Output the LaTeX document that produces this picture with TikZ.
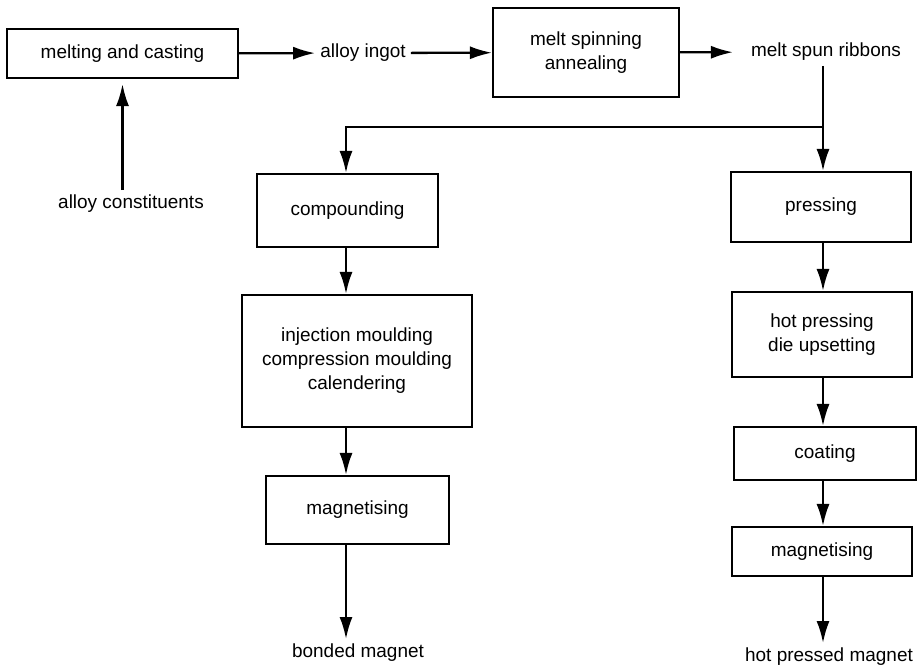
\documentclass[tikz,border=0pt]{standalone}
\usepackage{fontspec}
\setmainfont{Liberation Sans}
\usetikzlibrary{arrows.meta,positioning}

\begin{document}
\begin{tikzpicture}[x=0.2mm,y=-0.2mm,line width=1.3pt,
    font=\fontsize{10.8}{13.7}\selectfont,
    >={Latex[length=4.4mm,width=2.6mm]},
    stage/.style={draw,align=center,inner sep=1mm,line width=1.2pt},
    lbl/.style={inner sep=0.8mm}]
  \useasboundingbox (0,0) rectangle (918,666);
  % main line
  \node[stage,minimum width=46.2mm,minimum height=9.8mm] (melt) at (122.5,53.5) {melting and casting};
  \node[lbl] (ingot) at (363,53) {alloy ingot};
  \node[stage,minimum width=37.2mm,minimum height=17.8mm] (spin) at (586,52.5) {melt spinning\\annealing};
  \node[lbl] (ribbons) at (826,52) {melt spun ribbons};
  \node[lbl] (const) at (131,204) {alloy constituents};
  % bonded branch
  \node[stage,minimum width=36.2mm,minimum height=14.6mm] (comp) at (347.5,210.5) {compounding};
  \node[stage,minimum width=46mm,minimum height=26.4mm] (mould) at (357,361)
    {injection moulding\\compression moulding\\calendering};
  \node[stage,minimum width=36.6mm,minimum height=13.6mm] (magB) at (357.5,510) {magnetising};
  \node[lbl] (bonded) at (358,653) {bonded magnet};
  % hot pressed branch
  \node[stage,minimum width=36mm,minimum height=14mm] (press) at (821,207) {pressing};
  \node[stage,minimum width=36mm,minimum height=17mm] (hot) at (822,334.5) {hot pressing\\die upsetting};
  \node[stage,minimum width=36.4mm,minimum height=10.6mm] (coat) at (825,453.5) {coating};
  \node[stage,minimum width=36mm,minimum height=9.8mm] (magH) at (822,551.5) {magnetising};
  \node[lbl] (hotmag) at (829,657) {hot pressed magnet};
  \coordinate (split) at (823,127);
  \coordinate (colB) at (346,0);

  \draw[->] (melt) -- (ingot);
  \draw[->] (ingot) -- (spin);
  \draw[->,shorten >=2.6mm] (spin) -- (ribbons);
  \draw[->,shorten >=1mm] (melt.south |- const.north) -- (melt.south);
  \draw[->] (ribbons.south -| split) -- (split |- press.north);
  \draw[->] (split) -| (colB |- comp.north);
  % both columns run straight down
  \foreach \a/\b in {comp/mould,mould/magB,magB/bonded}
    \draw[->] (colB |- \a.south) -- (colB |- \b.north);
  \foreach \a/\b in {press/hot,hot/coat,coat/magH,magH/hotmag}
    \draw[->] (split |- \a.south) -- (split |- \b.north);
\end{tikzpicture}
\end{document}
